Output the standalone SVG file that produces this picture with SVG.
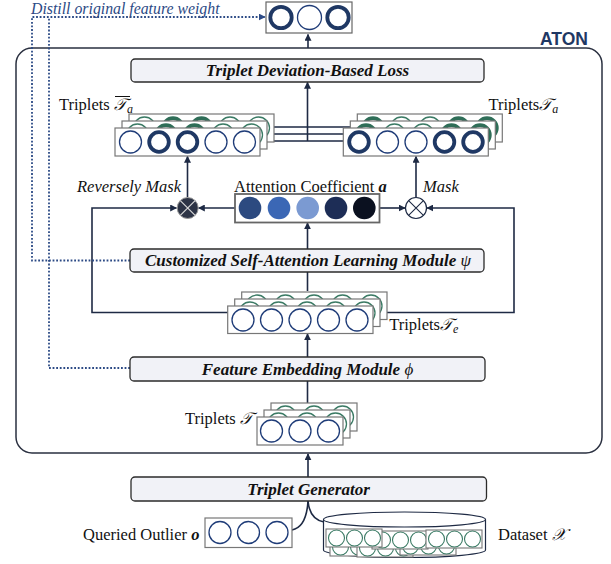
<svg xmlns="http://www.w3.org/2000/svg" width="611" height="564" viewBox="0 0 611 564">
<style>
.frame{fill:none;stroke:#2a3040;stroke-width:1.5}
.mod{fill:#f1f2f7;stroke:#2b2b2b;stroke-width:1.3}
.modt{font-family:"Liberation Serif",serif;font-weight:bold;font-style:italic;font-size:17px;fill:#111;text-anchor:middle}
.lay{fill:#fff;stroke:#777;stroke-width:1.2}
.cn{fill:none;stroke:#1f3c78;stroke-width:1.3}
.ck{fill:none;stroke:#1f3864;stroke-width:3.8}
.gn{fill:none;stroke:#3a7a64;stroke-width:1.3}
.gk{fill:none;stroke:#2f6e58;stroke-width:3.8}
.ln{fill:none;stroke:#1e2a44;stroke-width:1.6}
.dot{fill:none;stroke:#2c4a85;stroke-width:1.8;stroke-dasharray:1.8 1.8}
.lbl{font-family:"Liberation Serif",serif;font-size:16.5px;fill:#111}
.distill{font-family:"Liberation Serif","Times New Roman",serif;font-style:italic;font-size:15.8px;fill:#2c4a85}
.aton{font-family:"Liberation Sans",Arial,sans-serif;font-weight:bold;font-size:17.5px;fill:#1f3864;text-anchor:end}
.it{font-style:italic}
.m{font-family:"DejaVu Serif","DejaVu Sans","Noto Sans CJK SC",serif;font-style:italic}
.sub{font-family:"Liberation Serif",serif;font-style:italic;font-size:12px}
.dsb{fill:#fff;stroke:#777;stroke-width:1.1}
.dsc{fill:none;stroke:#3a7a64;stroke-width:1.1}
</style>
<defs>
<marker id="ah" viewBox="0 0 10 10" refX="9" refY="5" markerWidth="7" markerHeight="7" markerUnits="userSpaceOnUse" orient="auto"><path d="M0,0 L10,5 L0,10 z" fill="#1e2a44"/></marker>
<marker id="ahb" viewBox="0 0 10 10" refX="9" refY="5" markerWidth="7" markerHeight="7" markerUnits="userSpaceOnUse" orient="auto"><path d="M0,0 L10,5 L0,10 z" fill="#2c4a85"/></marker>
</defs>

<!-- ATON frame -->
<g id="aton">
<rect class="frame" x="16" y="48" width="586" height="405" rx="16"/>
<text class="aton" x="588" y="45">ATON</text>
</g>

<!-- connectors -->
<g id="connectors">
<path class="ln" d="M308,48 V34.5" marker-end="url(#ah)"/>
<path class="ln" d="M274,127 H357.5 M267,134 H350.5 M260,141 H343.5"/>
<path class="ln" d="M307.5,141 V82.5" marker-end="url(#ah)"/>
<path class="ln" d="M187.5,197 V156.5" marker-end="url(#ah)"/>
<path class="ln" d="M416,197 V156.5" marker-end="url(#ah)"/>
<path class="ln" d="M235,208 H198.5" marker-end="url(#ah)"/>
<path class="ln" d="M379.5,208 H405" marker-end="url(#ah)"/>
<path class="ln" d="M228,312.5 H92 V208 H176.5" marker-end="url(#ah)"/>
<path class="ln" d="M387,312.5 H514 V208 H427" marker-end="url(#ah)"/>
<path class="ln" d="M307.5,291 V272"/>
<path class="ln" d="M307.5,249 V223" marker-end="url(#ah)"/>
<path class="ln" d="M307.5,357 V334" marker-end="url(#ah)"/>
<path class="ln" d="M307.5,403 V381"/>
<path class="ln" d="M308,477 V454" marker-end="url(#ah)"/>
<path class="ln" d="M292,530 C302,528 307,518 308,501"/>
<path class="ln" d="M324,522 C313,520 309,512 308,501"/>
<path class="dot" d="M130,260.5 H32 V17 H265" marker-end="url(#ahb)"/>
<path class="dot" d="M130,368 H49 V17"/>
</g>

<text class="distill" x="31" y="14">Distill original feature weight</text>

<!-- distilled weight output -->
<g id="weights">
<rect x="266" y="2" width="86" height="31" fill="#fff" stroke="#666" stroke-width="1.2"/>
<circle class="ck" cx="281" cy="17.5" r="10.7" stroke-width="4"/>
<circle class="cn" cx="309.5" cy="17.5" r="12"/>
<circle class="ck" cx="338" cy="17.5" r="10.7" stroke-width="4"/>
</g>

<!-- Loss -->
<g id="loss">
<rect class="mod" x="131" y="59" width="353" height="23" rx="4"/>
<text class="modt" x="307.5" y="76">Triplet Deviation-Based Loss</text>
</g>

<!-- Left stack T-bar_a -->
<g id="triplets-a-bar">
<g transform="translate(14,-14)">
<rect class="lay" x="115" y="128" width="145" height="28"/>
<circle class="gn" cx="130.5" cy="142" r="11"/><circle class="gk" cx="159" cy="142" r="9.8"/><circle class="gk" cx="187.5" cy="142" r="9.8"/><circle class="gn" cx="216" cy="142" r="11"/><circle class="gn" cx="244.5" cy="142" r="11"/>
</g>
<g transform="translate(7,-7)">
<rect class="lay" x="115" y="128" width="145" height="28"/>
<circle class="gn" cx="130.5" cy="142" r="11"/><circle class="gk" cx="159" cy="142" r="9.8"/><circle class="gk" cx="187.5" cy="142" r="9.8"/><circle class="gn" cx="216" cy="142" r="11"/><circle class="gn" cx="244.5" cy="142" r="11"/>
</g>
<rect class="lay" x="115" y="128" width="145" height="28"/>
<circle class="cn" cx="130.5" cy="142" r="11"/><circle class="ck" cx="159" cy="142" r="9.8"/><circle class="ck" cx="187.5" cy="142" r="9.8"/><circle class="cn" cx="216" cy="142" r="11"/><circle class="cn" cx="244.5" cy="142" r="11"/>
<text class="lbl" x="59" y="110">Triplets <tspan class="m">𝒯</tspan><tspan class="sub" dy="3">a</tspan></text>
<line x1="115" y1="96.5" x2="130" y2="96.5" stroke="#111" stroke-width="1"/>
</g>

<!-- Right stack T_a -->
<g id="triplets-a">
<g transform="translate(14,-14)">
<rect class="lay" x="343.3" y="128" width="145" height="28"/>
<circle class="gk" cx="359" cy="142" r="9.8"/><circle class="gn" cx="387.5" cy="142" r="11"/><circle class="gn" cx="416" cy="142" r="11"/><circle class="gk" cx="444.5" cy="142" r="9.8"/><circle class="gk" cx="473" cy="142" r="9.8"/>
</g>
<g transform="translate(7,-7)">
<rect class="lay" x="343.3" y="128" width="145" height="28"/>
<circle class="gk" cx="359" cy="142" r="9.8"/><circle class="gn" cx="387.5" cy="142" r="11"/><circle class="gn" cx="416" cy="142" r="11"/><circle class="gk" cx="444.5" cy="142" r="9.8"/><circle class="gk" cx="473" cy="142" r="9.8"/>
</g>
<rect class="lay" x="343.3" y="128" width="145" height="28"/>
<circle class="ck" cx="359" cy="142" r="9.8"/><circle class="cn" cx="387.5" cy="142" r="11"/><circle class="cn" cx="416" cy="142" r="11"/><circle class="ck" cx="444.5" cy="142" r="9.8"/><circle class="ck" cx="473" cy="142" r="9.8"/>
<text class="lbl" x="488.5" y="110">Triplets<tspan class="m">𝒯</tspan><tspan class="sub" dy="3">a</tspan></text>
</g>

<!-- Attention coefficient -->
<g id="attention">
<text class="lbl" x="234" y="192">Attention Coefficient <tspan font-weight="bold" font-style="italic">a</tspan></text>
<rect x="235" y="194" width="144.5" height="28.5" fill="#fff" stroke="#666" stroke-width="1.8"/>
<circle cx="250" cy="208" r="11.3" fill="#2c4a80"/>
<circle cx="279" cy="208" r="11.3" fill="#3b67b5"/>
<circle cx="307.7" cy="208" r="11.3" fill="#7b9ad2"/>
<circle cx="336" cy="208" r="11.3" fill="#1d2d56"/>
<circle cx="364.3" cy="208" r="11.3" fill="#0b1120"/>
</g>

<!-- Reversely mask -->
<g id="reverse-mask">
<text class="lbl it" x="77" y="192">Reversely Mask</text>
<circle cx="187.7" cy="208" r="10.5" fill="#2d3446" stroke="#999" stroke-width="1"/>
<path d="M180.3,200.6 L195.1,215.4 M195.1,200.6 L180.3,215.4" stroke="#d8d8d8" stroke-width="1.2"/>
</g>

<!-- Mask -->
<g id="mask">
<text class="lbl it" x="423" y="192">Mask</text>
<circle cx="416" cy="208" r="10.5" fill="#fff" stroke="#1e2a44" stroke-width="1.2"/>
<path d="M408.6,200.6 L423.4,215.4 M423.4,200.6 L408.6,215.4" stroke="#1e2a44" stroke-width="1.1"/>
</g>

<!-- CSALM -->
<g id="csalm">
<rect class="mod" x="130" y="249" width="354" height="23" rx="4"/>
<text class="modt" x="308" y="266">Customized Self-Attention Learning Module <tspan font-weight="normal">ψ</tspan></text>
</g>

<!-- T_e stack -->
<g id="triplets-e">
<g transform="translate(14,-14)">
<rect class="lay" x="227.7" y="306" width="145.3" height="27.5"/>
<circle class="gn" cx="243" cy="320" r="11"/><circle class="gn" cx="271.5" cy="320" r="11"/><circle class="gn" cx="300" cy="320" r="11"/><circle class="gn" cx="328.5" cy="320" r="11"/><circle class="gn" cx="357" cy="320" r="11"/>
</g>
<g transform="translate(7,-7)">
<rect class="lay" x="227.7" y="306" width="145.3" height="27.5"/>
<circle class="gn" cx="243" cy="320" r="11"/><circle class="gn" cx="271.5" cy="320" r="11"/><circle class="gn" cx="300" cy="320" r="11"/><circle class="gn" cx="328.5" cy="320" r="11"/><circle class="gn" cx="357" cy="320" r="11"/>
</g>
<rect class="lay" x="227.7" y="306" width="145.3" height="27.5"/>
<circle class="cn" cx="243" cy="320" r="11"/><circle class="cn" cx="271.5" cy="320" r="11"/><circle class="cn" cx="300" cy="320" r="11"/><circle class="cn" cx="328.5" cy="320" r="11"/><circle class="cn" cx="357" cy="320" r="11"/>
<text class="lbl" x="389.3" y="330">Triplets<tspan class="m">𝒯</tspan><tspan class="sub" dy="3">e</tspan></text>
</g>

<!-- FEM -->
<g id="fem">
<rect class="mod" x="130" y="357" width="355" height="24" rx="4"/>
<text class="modt" x="307.5" y="374.5">Feature Embedding Module <tspan font-weight="normal">ϕ</tspan></text>
</g>

<!-- T stack -->
<g id="triplets">
<g transform="translate(14,-14)">
<rect class="lay" x="257" y="417" width="86" height="28"/>
<circle class="gn" cx="271.5" cy="431" r="11"/><circle class="gn" cx="300" cy="431" r="11"/><circle class="gn" cx="328.5" cy="431" r="11"/>
</g>
<g transform="translate(7,-7)">
<rect class="lay" x="257" y="417" width="86" height="28"/>
<circle class="gn" cx="271.5" cy="431" r="11"/><circle class="gn" cx="300" cy="431" r="11"/><circle class="gn" cx="328.5" cy="431" r="11"/>
</g>
<rect class="lay" x="257" y="417" width="86" height="28"/>
<circle class="cn" cx="271.5" cy="431" r="11"/><circle class="cn" cx="300" cy="431" r="11"/><circle class="cn" cx="328.5" cy="431" r="11"/>
<text class="lbl" x="185" y="424">Triplets <tspan class="m">𝒯</tspan></text>
</g>

<!-- Triplet generator -->
<g id="generator">
<rect class="mod" x="131" y="477" width="355.5" height="24" rx="4"/>
<text class="modt" x="308.5" y="495">Triplet Generator</text>
</g>

<!-- Queried outlier -->
<g id="outlier">
<text class="lbl" x="83" y="540">Queried Outlier <tspan font-weight="bold" font-style="italic">o</tspan></text>
<rect x="205" y="518" width="87" height="29.5" fill="#fff" stroke="#777" stroke-width="1.2"/>
<circle class="cn" cx="220" cy="532.5" r="11"/><circle class="cn" cx="248.5" cy="532.5" r="11"/><circle class="cn" cx="277" cy="532.5" r="11"/>
</g>

<!-- Dataset -->
<g id="dataset">
<path d="M323.5,519.5 V550 A81,7.5 0 0 0 485.5,550 V519.5" fill="#fff" stroke="#1e2a44" stroke-width="1.2"/>
<ellipse cx="404.5" cy="519.5" rx="81" ry="7.5" fill="#fff" stroke="#1e2a44" stroke-width="1.2"/>
<g transform="translate(330,538)"><rect class="dsb" width="56" height="18"/><circle class="dsc" cx="10.5" cy="9" r="8"/><circle class="dsc" cx="28.5" cy="9" r="8"/><circle class="dsc" cx="46.5" cy="9" r="8"/></g>
<g transform="translate(357,539)"><rect class="dsb" width="56" height="18"/><circle class="dsc" cx="10.5" cy="9" r="8"/><circle class="dsc" cx="28.5" cy="9" r="8"/><circle class="dsc" cx="46.5" cy="9" r="8"/></g>
<g transform="translate(400,537)"><rect class="dsb" width="56" height="18"/><circle class="dsc" cx="10.5" cy="9" r="8"/><circle class="dsc" cx="28.5" cy="9" r="8"/><circle class="dsc" cx="46.5" cy="9" r="8"/></g>
<g transform="translate(372,531)"><rect class="dsb" width="56" height="18"/><circle class="dsc" cx="10.5" cy="9" r="8"/><circle class="dsc" cx="28.5" cy="9" r="8"/><circle class="dsc" cx="46.5" cy="9" r="8"/></g>
<g transform="translate(326,529)"><rect class="dsb" width="56" height="18"/><circle class="dsc" cx="10.5" cy="9" r="8"/><circle class="dsc" cx="28.5" cy="9" r="8"/><circle class="dsc" cx="46.5" cy="9" r="8"/></g>
<g transform="translate(426,530)"><rect class="dsb" width="56" height="18"/><circle class="dsc" cx="10.5" cy="9" r="8"/><circle class="dsc" cx="28.5" cy="9" r="8"/><circle class="dsc" cx="46.5" cy="9" r="8"/></g>
<text class="lbl" x="498" y="540">Dataset <tspan class="m">𝒳</tspan></text>
</g>
</svg>
